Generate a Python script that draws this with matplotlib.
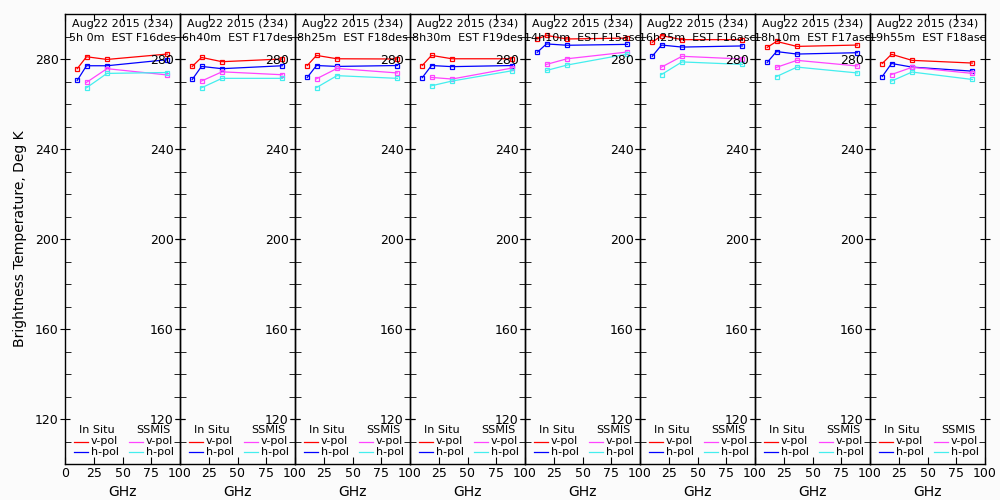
import matplotlib
matplotlib.use("Agg")
import matplotlib.pyplot as plt
from matplotlib.ticker import MultipleLocator

# frequencies (GHz)
insitu_freq = [10.65, 18.7, 36.5, 89.0]
ssmis_freq = [18.7, 36.5, 89.0]

dates = ["Aug22 2015 (234)"] * 8
times = ["5h 0m  EST F16des", "6h40m  EST F17des", "8h25m  EST F18des", "8h30m  EST F19des",
         "14h10m  EST F15asc", "16h25m  EST F16asc", "18h10m  EST F17asc", "19h55m  EST F18asc"]

# brightness temperatures, one row per panel
insitu_v = [[275.7, 281.0, 279.8, 282.2],
            [276.7, 280.7, 278.8, 280.0],
            [277.1, 281.6, 280.1, 280.0],
            [277.1, 281.6, 280.1, 280.1],
            [288.9, 290.5, 288.9, 289.3],
            [287.4, 290.4, 288.6, 288.6],
            [285.2, 287.8, 285.6, 286.2],
            [278.0, 282.1, 279.4, 278.2]]
insitu_h = [[270.5, 277.0, 277.0, 279.7],
            [270.9, 276.7, 275.7, 277.0],
            [271.8, 277.1, 276.7, 277.1],
            [271.7, 277.1, 276.6, 277.1],
            [283.0, 286.7, 286.1, 286.5],
            [281.2, 286.2, 285.3, 285.8],
            [278.5, 283.3, 282.2, 282.8],
            [272.2, 278.0, 276.4, 274.6]]
ssmis_v = [[269.6, 275.7, 272.9],
           [270.2, 274.3, 273.0],
           [271.2, 275.8, 273.8],
           [271.8, 271.1, 276.0],
           [277.6, 280.1, 283.1],
           [276.4, 281.2, 280.0],
           [276.3, 279.4, 276.9],
           [273.1, 276.3, 273.6]]
ssmis_h = [[267.2, 273.6, 274.0],
           [267.2, 271.4, 271.4],
           [267.3, 272.6, 271.4],
           [268.1, 270.2, 274.8],
           [274.9, 277.3, 282.2],
           [273.1, 278.7, 277.6],
           [272.2, 276.4, 273.8],
           [270.2, 274.2, 270.9]]

c_red = "#ff0000"
c_blue = "#0000ff"
c_mag = "#ff44ff"
c_cyan = "#44eeee"
fs = 9
fs_head = 8

fig = plt.figure(figsize=(10, 5), dpi=100, facecolor="#fbfbfb")

for i in range(8):
    ax = fig.add_axes([0.065 + 0.115 * i, 0.072, 0.115, 0.9])
    ax.set_facecolor("none")
    kw = dict(marker="s", markersize=3.5, markerfacecolor="none", linewidth=0.9, markeredgewidth=0.9)
    ax.plot(insitu_freq, insitu_v[i], color=c_red, **kw)
    ax.plot(insitu_freq, insitu_h[i], color=c_blue, **kw)
    ax.plot(ssmis_freq, ssmis_v[i], color=c_mag, **kw)
    ax.plot(ssmis_freq, ssmis_h[i], color=c_cyan, **kw)

    ax.set_xlim(0, 100)
    ax.set_ylim(100, 300)
    ax.xaxis.set_major_locator(MultipleLocator(25))
    ax.yaxis.set_minor_locator(MultipleLocator(10))
    ax.set_yticks([120, 160, 200, 240, 280])
    ax.tick_params(axis="x", which="major", direction="in", length=5, top=True, labelsize=fs, pad=2)
    ax.tick_params(axis="y", which="major", direction="inout", length=7, right=True, labelsize=fs, pad=1)
    ax.tick_params(axis="y", which="minor", direction="in", length=4, right=True)
    if i > 0:
        ax.set_xticks([25, 50, 75, 100])
    for sp in ax.spines.values():
        sp.set_linewidth(1.0)
    ax.set_xlabel("GHz", fontsize=10, labelpad=4)

    ax.text(0.5, 0.978, dates[i], transform=ax.transAxes, ha="center", va="center", fontsize=fs_head)
    ax.text(0.5, 0.947, times[i], transform=ax.transAxes, ha="center", va="center", fontsize=fs_head)

    # legend drawn by hand
    ax.text(0.274, 0.076, "In Situ", transform=ax.transAxes, ha="center", va="center", fontsize=fs_head)
    ax.text(0.77, 0.076, "SSMIS", transform=ax.transAxes, ha="center", va="center", fontsize=fs_head)
    for xl, col, lab, yy in [(0.078, c_red, "v-pol", 0.05), (0.078, c_blue, "h-pol", 0.026),
                             (0.557, c_mag, "v-pol", 0.05), (0.557, c_cyan, "h-pol", 0.026)]:
        ax.plot([xl, xl + 0.12], [yy, yy], color=col, linewidth=0.9, transform=ax.transAxes)
        ax.text(xl + 0.145, yy, lab, transform=ax.transAxes, ha="left", va="center", fontsize=fs_head)

    if i == 0:
        ax.set_ylabel("Brightness Temperature, Deg K", fontsize=10, labelpad=6)

fig.savefig("out.png", dpi=100, facecolor=fig.get_facecolor())
